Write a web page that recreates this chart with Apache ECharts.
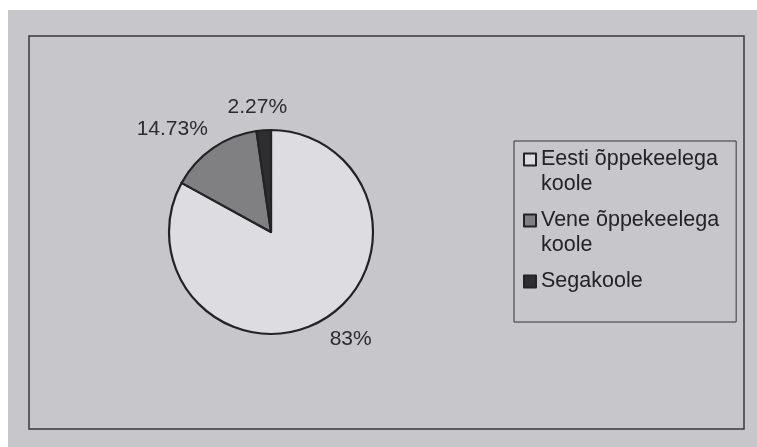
<!DOCTYPE html>
<html>
<head>
<meta charset="utf-8">
<script src="https://cdn.jsdelivr.net/npm/echarts@6/dist/echarts.min.js"></script>
<style>
    html, body { margin: 0; padding: 0; background: #ffffff; }
    #page {
        position: absolute; left: 8px; top: 10px;
        width: 749px; height: 437px;
        background: #c7c6ca;
    }
    #chart { position: absolute; left: 0; top: 0; width: 757px; height: 447px; }
</style>
</head>
<body>
<div id="page"></div>
<div id="chart"></div>
<script>
// koolide jaotus õppekeele järgi
const names = ['Eesti õppekeelega koole', 'Vene õppekeelega koole', 'Segakoole'];
const shares = [83, 14.73, 2.27];
const labels = ['83%', '14.73%', '2.27%'];

const fills = ['#dddce0', '#808082', '#2e2e30'];
// sildi nihe joonest (käsitsi sobitatud)
const labelShift = [-5, -8, -25];

const chart = echarts.init(document.getElementById('chart'));

const option = {
    backgroundColor: 'transparent',
    animation: false,
    graphic: [{
        type: 'rect',
        shape: { x: 29, y: 36, width: 715, height: 393 },
        style: { fill: 'none', stroke: '#3a3a3c', lineWidth: 1.5 },
        silent: true
    }],
    legend: {
        orient: 'vertical',
        left: 514,
        top: 141,
        padding: [5, 17, 2, 9],
        itemGap: 9,
        itemWidth: 12,
        itemHeight: 50,
        borderColor: '#333',
        borderWidth: 1,
        icon: 'path://M0,0L0,0M0,6.5h12v12h-12zM12,50L12,50',
        selectedMode: false,
        textStyle: {
            fontFamily: 'Liberation Sans, Arial, sans-serif',
            fontSize: 21.5,
            lineHeight: 25,
            color: '#232325'
        },
        formatter: function (name) {
            return name.indexOf(' koole') > 0 ? name.replace(' koole', '\nkoole') : name + '\n';
        },
        data: names
    },
    series: [{
        type: 'pie',
        center: [271, 232],
        radius: 102,
        startAngle: 90,
        clockwise: true,
        avoidLabelOverlap: false,
        silent: true,
        itemStyle: { borderColor: '#232325', borderWidth: 2.2 },
        label: {
            show: true,
            position: 'outside',
            fontFamily: 'Liberation Sans, Arial, sans-serif',
            fontSize: 21,
            color: '#2c2c2e'
        },
        labelLine: { show: false, length: 23, length2: 0 },
        data: names.map((n, i) => ({
            name: n,
            value: shares[i],
            itemStyle: { color: fills[i] },
            label: { formatter: labels[i], distanceToLabelLine: labelShift[i] }
        }))
    }]
};

chart.setOption(option);
</script>
</body>
</html>
